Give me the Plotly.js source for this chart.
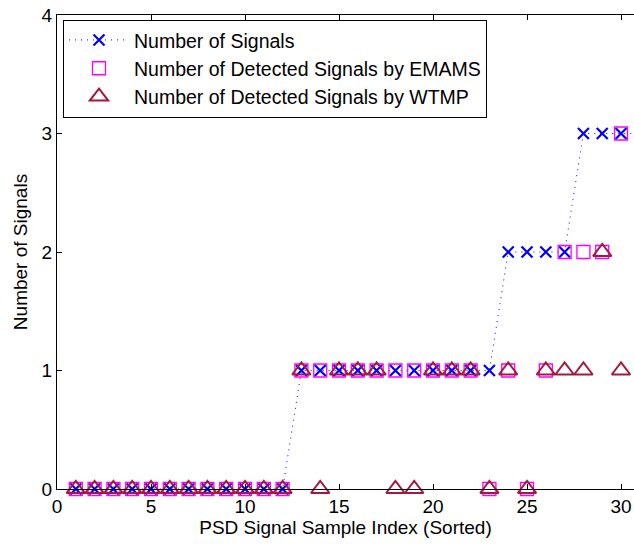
<!DOCTYPE html>
<html>
<head>
<meta charset="utf-8">
<script src="https://cdn.plot.ly/plotly-3.0.1.min.js"></script>
<style>
  html, body { margin: 0; padding: 0; background: #fff; }
  #chart { width: 634px; height: 544px; }
</style>
</head>
<body>
<div id="chart"></div>
<script>
// ---- data ----
const sampleIndex = [1,2,3,4,5,6,7,8,9,10,11,12,13,14,15,16,17,18,19,20,21,22,23,24,25,26,27,28,29,30,31];
const numSignals  = [0,0,0,0,0,0,0,0,0,0,0,0,1,1,1,1,1,1,1,1,1,1,1,2,2,2,2,3,3,3,3];
const emamsDetected = [0,0,0,0,0,0,0,0,0,0,0,0,1,1,1,1,1,1,1,1,1,1,0,1,0,1,2,2,2,3,2];
const wtmpDetected  = [0,0,0,0,0,0,0,0,0,0,0,0,1,0,1,1,1,0,0,1,1,1,0,1,0,1,1,1,2,1,2];
const seriesNames = ["Number of Signals", "Number of Detected Signals by EMAMS", "Number of Detected Signals by WTMP"];
const xTicks = [0,5,10,15,20,25,30];
const yTicks = [0,1,2,3,4];

const FONT = '"Liberation Sans", Arial, Helvetica, sans-serif';

const traces = [
  {
    x: sampleIndex, y: numSignals, name: seriesNames[0],
    type: 'scatter', mode: 'lines+markers', cliponaxis: false,
    line: { color: '#0000ff', width: 1, dash: '1px,5px' },
    marker: { symbol: 'x-thin-open', size: 11, color: '#0000ff', line: { color: '#0000ff', width: 2.2 } }
  },
  {
    x: sampleIndex, y: emamsDetected, name: seriesNames[1],
    type: 'scatter', mode: 'markers', cliponaxis: false,
    marker: { symbol: 'square-open', size: 13, color: '#ff00ff', line: { color: '#ff00ff', width: 1.3 } }
  },
  {
    x: sampleIndex, y: wtmpDetected, name: seriesNames[2],
    type: 'scatter', mode: 'markers', cliponaxis: false,
    marker: { symbol: 'triangle-up-open', size: 16, color: '#a31a3e', line: { color: '#a31a3e', width: 2 } }
  }
];

const layout = {
  width: 634, height: 544,
  margin: { l: 57, r: 0, t: 15, b: 55, pad: 0 },
  paper_bgcolor: '#ffffff', plot_bgcolor: '#ffffff',
  font: { family: FONT, size: 19, color: '#000' },
  showlegend: true,
  legend: {
    x: 0.0104, y: 0.99, xanchor: 'left', yanchor: 'top',
    bgcolor: '#ffffff', bordercolor: '#000', borderwidth: 1,
    font: { family: FONT, size: 19.5, color: '#000' },
    itemwidth: 60, tracegroupgap: 0
  },
  xaxis: {
    range: [0, 30.69], tickvals: xTicks, ticktext: xTicks.map(String),
    showline: true, linecolor: '#000', linewidth: 1, mirror: 'ticks',
    ticks: 'inside', ticklen: 5, tickcolor: '#000', tickwidth: 1,
    showgrid: false, zeroline: false,
    tickfont: { family: FONT, size: 19, color: '#000' },
    title: { text: 'PSD Signal Sample Index (Sorted)', font: { family: FONT, size: 19, color: '#000' }, standoff: 4 }
  },
  yaxis: {
    range: [0, 4], tickvals: yTicks, ticktext: yTicks.map(String),
    showline: true, linecolor: '#000', linewidth: 1, mirror: false,
    ticks: 'inside', ticklen: 5, tickcolor: '#000', tickwidth: 1,
    showgrid: false, zeroline: false,
    tickfont: { family: FONT, size: 19, color: '#000' },
    title: { text: 'Number of Signals', font: { family: FONT, size: 19, color: '#000' }, standoff: 8 }
  }
};

Plotly.newPlot('chart', traces, layout, { displayModeBar: false, staticPlot: true });
</script>
</body>
</html>
